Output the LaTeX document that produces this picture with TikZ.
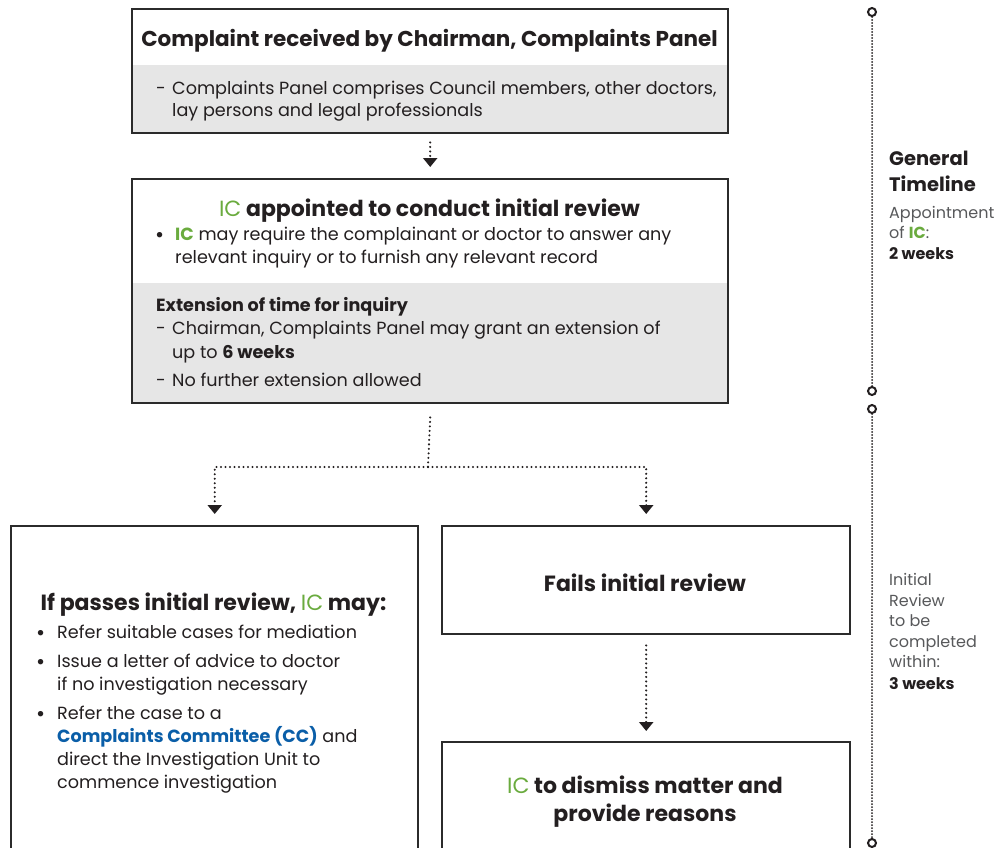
\documentclass[tikz,border=0pt]{standalone}
\usepackage{fontspec}
\setmainfont{Poppins}
\usetikzlibrary{arrows.meta}
\definecolor{txt}{HTML}{231F20}
\definecolor{icg}{HTML}{6AAB3E}
\definecolor{ccb}{HTML}{0A5EA8}
\definecolor{panel}{HTML}{E6E6E6}
\definecolor{edge}{HTML}{2B2B2B}
\definecolor{tgray}{HTML}{58595B}
\newcommand{\ICg}{\textcolor{icg}{IC}}
\newcommand{\bulchar}{{\fontsize{22}{22}\selectfont •}}
\tikzset{
 box/.style={draw=edge, line width=2.4pt, inner sep=0pt, anchor=north west},
 ttl/.style={font=\fontsize{22}{26}\selectfont\bfseries, text=txt, inner sep=0pt, anchor=base},
 ln/.style={font=\fontsize{17.6}{22}\selectfont, text=txt, inner sep=0pt, anchor=base west},
 sub/.style={font=\fontsize{17.6}{22}\selectfont\bfseries, text=txt, inner sep=0pt, anchor=base west},
 conn/.style={draw=txt, line width=2.3pt, dash pattern=on 0pt off 4.5pt, line cap=round, -{Triangle[width=14pt,length=9pt]}},
 dotline/.style={draw=txt, line width=2.3pt, dash pattern=on 0pt off 4.5pt, line cap=round},
 tdot/.style={draw=txt, line width=2pt, dash pattern=on 0pt off 3pt, line cap=round},
 tcirc/.style={circle, draw=txt, line width=2pt, fill=white, minimum size=8pt, inner sep=0pt},
 tl/.style={font=\fontsize{16}{20}\selectfont, text=tgray, inner sep=0pt, anchor=base west},
 th/.style={font=\fontsize{19.5}{22}\selectfont\bfseries, text=txt, inner sep=0pt, anchor=base west},
 tb/.style={font=\fontsize{16}{20}\selectfont\bfseries, text=txt, inner sep=0pt, anchor=base west},
}
\begin{document}
\begin{tikzpicture}[x=1pt,y=-1pt]
\clip (0,0) rectangle (998,847);
\fill[white] (0,0) rectangle (998,847);
% gray panels
\fill[panel] (131,65) rectangle (727,132);
\fill[panel] (131,283) rectangle (727,402);
% boxes
\node[box, minimum width=596pt, minimum height=124pt] (b1) at (131,8) {};
\node[box, minimum width=596pt, minimum height=224pt] (b2) at (131,178) {};
\node[box, minimum width=407pt, minimum height=360pt] (bL) at (10,525) {};
\node[box, minimum width=408pt, minimum height=108pt] (bR1) at (441,525) {};
\node[box, minimum width=408pt, minimum height=140pt] (bR2) at (441,741) {};
% box 1 text
\node[ttl, font=\fontsize{21.5}{26}\selectfont\bfseries] (t1) at (429.5,46) {Complaint received by Chairman, Complaints Panel};
\node[ln] (d1) at (156,94) {-};
\node[ln] (l1a) at (172,94) {Complaints Panel comprises Council members, other doctors,};
\node[ln] (l1b) at (172,116) {lay persons and legal professionals};
% box 2 text
\node[ttl] (t2) at (429.5,216) {\textmd{\ICg} appointed to conduct initial review};
\node[ln] (bu2) at (155,242) {\bulchar};
\node[ln] (l2a) at (175,240) {\textbf{\ICg} may require the complainant or doctor to answer any};
\node[ln] (l2b) at (175,263) {relevant inquiry or to furnish any relevant record};
\node[sub] (s2) at (156,311) {Extension of time for inquiry};
\node[ln] (d2a) at (156,334) {-};
\node[ln] (l2c) at (172,334) {Chairman, Complaints Panel may grant an extension of};
\node[ln] (l2d) at (172,358) {up to \textbf{6 weeks}};
\node[ln] (d2b) at (156,386) {-};
\node[ln] (l2e) at (172,386) {No further extension allowed};
% left box text
\node[ttl] (tL) at (213.5,610) {If passes initial review, \textmd{\ICg} may:};
\node[ln] (buL1) at (36,640) {\bulchar};
\node[ln] (lL1) at (57,638) {Refer suitable cases for mediation};
\node[ln] (buL2) at (36,669) {\bulchar};
\node[ln] (lL2) at (57,667) {Issue a letter of advice to doctor};
\node[ln] (lL3) at (57,690) {if no investigation necessary};
\node[ln] (buL3) at (36,721) {\bulchar};
\node[ln] (lL4) at (57,719) {Refer the case to a};
\node[ln] (lL5) at (57,742) {\textbf{\textcolor{ccb}{Complaints Committee (CC)}} and};
\node[ln] (lL6) at (57,765) {direct the Investigation Unit to};
\node[ln] (lL7) at (57,788) {commence investigation};
% right boxes text
\node[ttl] (tR1) at (645,591) {Fails initial review};
\node[ttl] (tR2a) at (645,793) {\textmd{\ICg} to dismiss matter and};
\node[ttl] (tR2b) at (645,821) {provide reasons};
% connectors
\coordinate (split) at (428,467);
\draw[conn] ([yshift=-8pt]b1.south) -- ([yshift=11pt]b2.north);
\draw[dotline] ([yshift=-13pt]b2.south) -- (split);
\draw[conn] (split) -| ([yshift=11pt]bL.north);
\draw[conn] (split) -| ([yshift=11pt]bR1.north);
\draw[conn] ([yshift=-10pt]bR1.south) -- ([yshift=10pt]bR2.north);
% timeline
\node[tcirc] (c1) at (872,12) {};
\node[tcirc] (c2) at (872,391) {};
\node[tcirc] (c3) at (872,409) {};
\node[tcirc] (c4) at (872,843) {};
\draw[tdot] (c1) -- (c2);
\draw[tdot] (c3) -- (c4);
\node[th] (g1) at (889,165) {General};
\node[th] (g2) at (889,191) {Timeline};
\node[tl] (g3) at (889,218) {Appointment};
\node[tl] (g4) at (889,238) {of \textbf{\ICg}:};
\node[tb] (g5) at (889,259) {2 weeks};
\node[tl] (h1) at (889,585) {Initial};
\node[tl] (h2) at (889,606) {Review};
\node[tl] (h3) at (889,626) {to be};
\node[tl] (h4) at (889,647) {completed};
\node[tl] (h5) at (889,667) {within:};
\node[tb] (h6) at (889,689) {3 weeks};
\end{tikzpicture}
\end{document}
